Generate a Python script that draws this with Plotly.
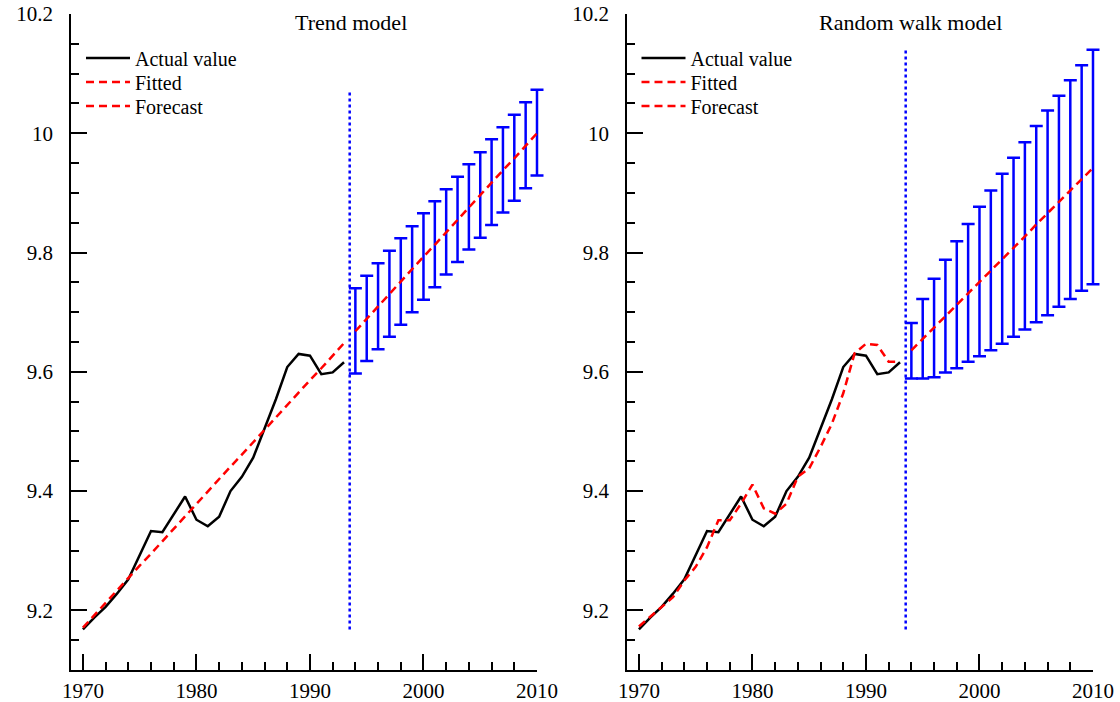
import plotly.graph_objects as go

# ---------------- data ----------------
years_hist = list(range(1970, 1994))
years_fc = list(range(1994, 2011))

actual = [9.168, 9.188, 9.206, 9.228, 9.252, 9.292, 9.333, 9.331, 9.362, 9.391,
          9.352, 9.341, 9.357, 9.400, 9.424, 9.456, 9.505, 9.554, 9.608, 9.630,
          9.627, 9.596, 9.599, 9.616]

trend_fitted = [9.171, 9.192, 9.212, 9.233, 9.254, 9.275, 9.295, 9.316, 9.337, 9.358,
                9.378, 9.399, 9.420, 9.441, 9.461, 9.482, 9.503, 9.523, 9.544, 9.565,
                9.586, 9.606, 9.627, 9.648]
trend_forecast = [9.668, 9.689, 9.710, 9.730, 9.751, 9.772, 9.793, 9.813, 9.834, 9.855,
                  9.875, 9.896, 9.917, 9.938, 9.958, 9.979, 10.000]
trend_upper = [9.740, 9.761, 9.782, 9.803, 9.824, 9.844, 9.866, 9.886, 9.906, 9.927,
               9.948, 9.968, 9.990, 10.010, 10.031, 10.052, 10.073]
trend_lower = [9.597, 9.618, 9.638, 9.659, 9.679, 9.700, 9.721, 9.742, 9.763, 9.784,
               9.805, 9.825, 9.846, 9.867, 9.887, 9.908, 9.929]

rw_fitted = [9.173, 9.189, 9.206, 9.222, 9.250, 9.273, 9.306, 9.351, 9.351, 9.379,
             9.411, 9.371, 9.362, 9.379, 9.424, 9.438, 9.474, 9.513, 9.564, 9.631,
             9.647, 9.645, 9.617, 9.617]
rw_forecast = [9.636, 9.655, 9.674, 9.693, 9.712, 9.732, 9.751, 9.770, 9.789, 9.808,
               9.827, 9.847, 9.866, 9.885, 9.904, 9.923, 9.942]
rw_upper = [9.682, 9.722, 9.756, 9.788, 9.819, 9.848, 9.877, 9.904, 9.932, 9.959,
            9.985, 10.012, 10.038, 10.063, 10.089, 10.114, 10.140]
rw_lower = [9.589, 9.589, 9.591, 9.599, 9.606, 9.617, 9.626, 9.636, 9.647, 9.659,
            9.671, 9.683, 9.695, 9.709, 9.722, 9.736, 9.747]

forecast_split = 1993.5

y_tick_vals = [9.2, 9.4, 9.6, 9.8, 10.0, 10.2]
y_tick_text = ["9.2", "9.4", "9.6", "9.8", "10", "10.2"]
x_tick_vals = [1970, 1980, 1990, 2000, 2010]
x_tick_text = ["1970", "1980", "1990", "2000", "2010"]

panel_titles = ["Trend model", "Random walk model"]
legend_names = ["Actual value", "Fitted", "Forecast"]

# ---------------- styling ----------------
FONT = "Liberation Serif"
BLACK = "#000000"
RED = "#ff0000"
BLUE = "#0000ff"
LW = 2.5
DASH = "8px,5px"

W, H = 1120, 702
ML, MR, MT, MB = 71, 10, 14, 32
PW = W - ML - MR
PH = H - MT - MB

X_RANGE = [1968.95, 2010]
Y_RANGE = [9.1, 10.2]
PANEL_PX = [(71, 537), (627, 1093)]
EXT_PX = 10  # extra room so end caps of the 2010 bars are not clipped


def px_to_paper_x(px):
    return (px - ML) / PW


def px_to_paper_y(py):
    return (H - MB - py) / PH


fig = go.Figure()

panels = [
    dict(fitted=trend_fitted, fc=trend_forecast, up=trend_upper, lo=trend_lower,
         xa="x", xe="x3", ya="y", legends=["legend", "legend2", "legend3"]),
    dict(fitted=rw_fitted, fc=rw_forecast, up=rw_upper, lo=rw_lower,
         xa="x2", xe="x4", ya="y2", legends=["legend4", "legend5", "legend6"]),
]

for p in panels:
    fig.add_trace(go.Scatter(x=years_hist, y=actual, mode="lines", name=legend_names[0],
                             line=dict(color=BLACK, width=LW), xaxis=p["xa"], yaxis=p["ya"],
                             legend=p["legends"][0]))
    fig.add_trace(go.Scatter(x=years_hist, y=p["fitted"], mode="lines", name=legend_names[1],
                             line=dict(color=RED, width=LW, dash=DASH),
                             xaxis=p["xa"], yaxis=p["ya"], legend=p["legends"][1]))
    # forecast origin marker line
    all_vals = actual + p["fitted"] + p["up"] + p["lo"]
    fig.add_trace(go.Scatter(x=[forecast_split, forecast_split],
                             y=[min(all_vals), max(all_vals)], mode="lines",
                             showlegend=False, line=dict(color=BLUE, width=2.5, dash="3px,3px"),
                             xaxis=p["xa"], yaxis=p["ya"]))
    # forecast intervals (on an identically scaled axis with a little extra room)
    fig.add_trace(go.Scatter(
        x=years_fc, y=p["fc"], mode="markers", showlegend=False,
        marker=dict(size=1, color="rgba(0,0,0,0)"),
        error_y=dict(type="data", symmetric=False,
                     array=[u - f for u, f in zip(p["up"], p["fc"])],
                     arrayminus=[f - l for f, l in zip(p["fc"], p["lo"])],
                     color=BLUE, thickness=2.5, width=6.5),
        xaxis=p["xe"], yaxis=p["ya"]))
    fig.add_trace(go.Scatter(x=years_fc, y=p["fc"], mode="lines", name=legend_names[2],
                             line=dict(color=RED, width=LW, dash=DASH),
                             xaxis=p["xe"], yaxis=p["ya"], legend=p["legends"][2]))

axis_common = dict(showline=True, linecolor=BLACK, linewidth=1.5, showgrid=False,
                   zeroline=False, ticks="inside", tickcolor=BLACK, tickwidth=1.5,
                   automargin=False,
                   tickfont=dict(family=FONT, size=21, color=BLACK))

xaxis_common = dict(axis_common, range=X_RANGE, tickmode="array",
                    tickvals=x_tick_vals, ticktext=x_tick_text, ticklen=16,
                    minor=dict(tickmode="linear", tick0=1970, dtick=2, ticks="inside",
                               ticklen=8, tickcolor=BLACK, tickwidth=1.5),
                    ticklabelstandoff=1)
yaxis_common = dict(axis_common, range=Y_RANGE, tickmode="array",
                    tickvals=y_tick_vals, ticktext=y_tick_text, ticklen=16,
                    minor=dict(tickmode="linear", tick0=9.1, dtick=0.05, ticks="inside",
                               ticklen=8, tickcolor=BLACK, tickwidth=1.5),
                    ticklabelstandoff=12)

ext_years = (X_RANGE[1] - X_RANGE[0]) * EXT_PX / (PANEL_PX[0][1] - PANEL_PX[0][0])
ext_axis = dict(visible=False, range=[X_RANGE[0], X_RANGE[1] + ext_years],
                showgrid=False, zeroline=False, automargin=False)

legend_rows = [58, 82, 106]
legend_lefts = [81, 636.5]

legend_layout = {}
names = ["legend", "legend2", "legend3", "legend4", "legend5", "legend6"]
for i, nm in enumerate(names):
    panel = i // 3
    row = i % 3
    legend_layout[nm] = dict(
        x=px_to_paper_x(legend_lefts[panel]), xanchor="left",
        y=px_to_paper_y(legend_rows[row]), yanchor="middle",
        bgcolor="rgba(0,0,0,0)", borderwidth=0, itemwidth=44,
        font=dict(family=FONT, size=20, color=BLACK),
        tracegroupgap=0)

fig.update_layout(
    width=W, height=H,
    margin=dict(l=ML, r=MR, t=MT, b=MB, pad=0, autoexpand=False),
    paper_bgcolor="white", plot_bgcolor="rgba(0,0,0,0)",
    showlegend=True,
    xaxis=dict(xaxis_common, domain=[px_to_paper_x(PANEL_PX[0][0]), px_to_paper_x(PANEL_PX[0][1])],
               anchor="y"),
    yaxis=dict(yaxis_common, domain=[0, 1], anchor="x"),
    xaxis2=dict(xaxis_common, domain=[px_to_paper_x(PANEL_PX[1][0]), px_to_paper_x(PANEL_PX[1][1])],
                anchor="y2"),
    yaxis2=dict(yaxis_common, domain=[0, 1], anchor="x2"),
    xaxis3=dict(ext_axis, domain=[px_to_paper_x(PANEL_PX[0][0]),
                                  px_to_paper_x(PANEL_PX[0][1] + EXT_PX)], anchor="y"),
    xaxis4=dict(ext_axis, domain=[px_to_paper_x(PANEL_PX[1][0]),
                                  px_to_paper_x(PANEL_PX[1][1] + EXT_PX)], anchor="y2"),
    annotations=[
        dict(text=panel_titles[0], xref="paper", yref="paper",
             x=px_to_paper_x(351), y=px_to_paper_y(22), xanchor="center", yanchor="middle",
             showarrow=False, font=dict(family=FONT, size=22, color=BLACK)),
        dict(text=panel_titles[1], xref="paper", yref="paper",
             x=px_to_paper_x(910), y=px_to_paper_y(22), xanchor="center", yanchor="middle",
             showarrow=False, font=dict(family=FONT, size=22, color=BLACK)),
    ],
    **legend_layout,
)

fig.write_html("out.html", config={"displayModeBar": False},
               post_script="document.body.style.margin='0px';")
